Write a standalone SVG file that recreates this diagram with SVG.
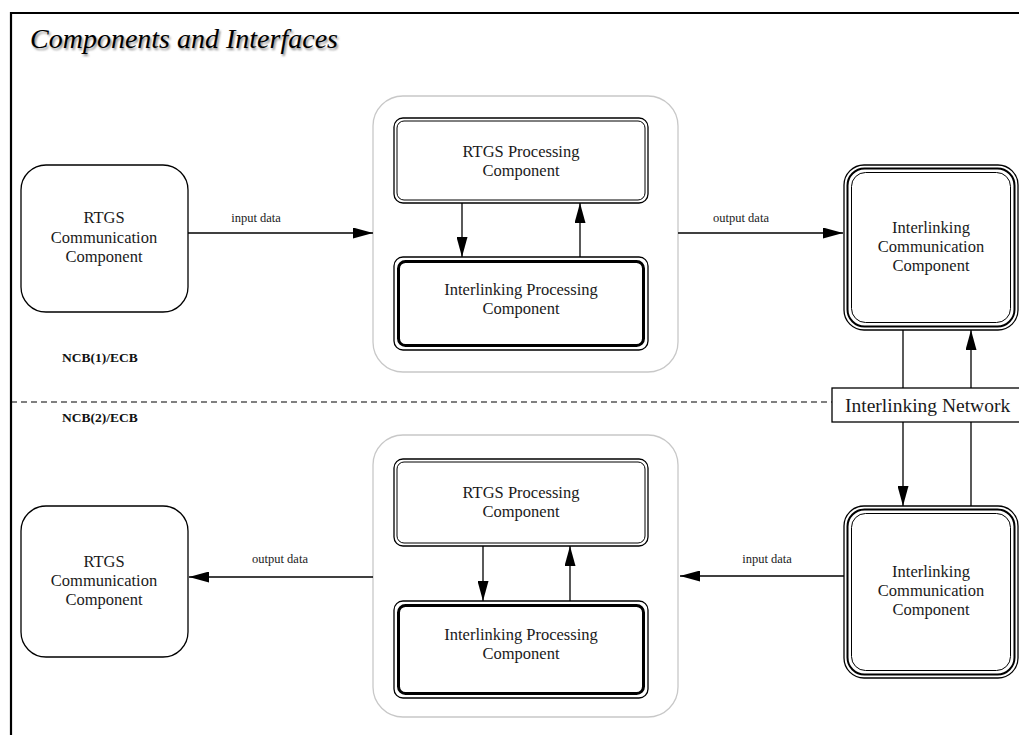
<svg xmlns="http://www.w3.org/2000/svg" width="1019" height="735" viewBox="0 0 1019 735">
<style>
.t{font-family:"Liberation Serif","Times New Roman",serif;font-size:16.5px;fill:#1a1a1a;text-anchor:middle}
.s{font-family:"Liberation Serif","Times New Roman",serif;font-size:12.5px;fill:#1a1a1a;text-anchor:middle}
.b{font-family:"Liberation Serif","Times New Roman",serif;font-size:13.5px;font-weight:bold;fill:#111}
.ln{stroke:#000;stroke-width:1.3;fill:none}
.box{fill:#fff;stroke:#000;stroke-width:1.3}
.thin{fill:none;stroke:#000;stroke-width:1}
.cont{fill:#fff;stroke:#c8c8c8;stroke-width:1.3}
</style>
<defs>
<marker id="ah" viewBox="0 0 20 11" refX="20" refY="5.5" markerWidth="20" markerHeight="11" markerUnits="userSpaceOnUse" orient="auto">
<path d="M0,0 L20,5.5 L0,11 z" fill="#000"/>
</marker>
<filter id="blur" x="-5%" y="-20%" width="110%" height="140%"><feGaussianBlur stdDeviation="0.8"/></filter>
</defs>
<rect x="0" y="0" width="1019" height="735" fill="#fff"/>
<path d="M11,740 L11,13 L1025,13" fill="none" stroke="#000" stroke-width="2.2"/>
<g id="title">
<text x="31.5" y="49.5" font-family="Liberation Serif, serif" font-style="italic" font-size="28" fill="#888" filter="url(#blur)">Components and Interfaces</text>
<text x="30" y="48" font-family="Liberation Serif, serif" font-style="italic" font-size="28" fill="#000">Components and Interfaces</text>
</g>
<line x1="11" y1="402" x2="832" y2="402" stroke="#000" stroke-width="1" stroke-dasharray="6,4"/>
<text class="b" x="62" y="362">NCB(1)/ECB</text>
<text class="b" x="62" y="422">NCB(2)/ECB</text>

<g id="container-top"><rect class="cont" x="373" y="96" width="305" height="276" rx="30"/></g>
<g id="container-bottom"><rect class="cont" x="373" y="435" width="305" height="282" rx="30"/></g>

<g id="connectors">
<line class="ln" x1="188" y1="233" x2="373" y2="233" marker-end="url(#ah)"/>
<text class="s" x="256" y="222">input data</text>
<line class="ln" x1="678" y1="233" x2="843" y2="233" marker-end="url(#ah)"/>
<text class="s" x="741" y="222">output data</text>
<line class="ln" x1="462" y1="203" x2="462" y2="257" marker-end="url(#ah)"/>
<line class="ln" x1="580" y1="257" x2="580" y2="203" marker-end="url(#ah)"/>
<line class="ln" x1="903" y1="330" x2="903" y2="388"/>
<line class="ln" x1="971" y1="388" x2="971" y2="330" marker-end="url(#ah)"/>
<line class="ln" x1="903" y1="422" x2="903" y2="506" marker-end="url(#ah)"/>
<line class="ln" x1="971" y1="422" x2="971" y2="506"/>
<line class="ln" x1="844" y1="576" x2="680" y2="576" marker-end="url(#ah)"/>
<text class="s" x="767" y="563">input data</text>
<line class="ln" x1="373" y1="577" x2="189" y2="577" marker-end="url(#ah)"/>
<text class="s" x="280" y="563">output data</text>
<line class="ln" x1="483" y1="546" x2="483" y2="601" marker-end="url(#ah)"/>
<line class="ln" x1="570" y1="601" x2="570" y2="546" marker-end="url(#ah)"/>
</g>

<g id="rtgs-comm-1">
<rect class="box" x="21" y="165" width="167" height="147" rx="25"/>
<text class="t" x="104" y="223">RTGS</text>
<text class="t" x="104" y="243">Communication</text>
<text class="t" x="104" y="262">Component</text>
</g>
<g id="rtgs-proc-1">
<rect class="box" x="394" y="118" width="254" height="85" rx="9"/>
<rect class="thin" x="397" y="121" width="248" height="79" rx="7"/>
<text class="t" x="521" y="157">RTGS Processing</text>
<text class="t" x="521" y="176">Component</text>
</g>
<g id="il-proc-1">
<rect class="box" x="394" y="257" width="254" height="93" rx="9"/>
<rect fill="none" stroke="#000" stroke-width="3" x="398.5" y="261.5" width="245" height="84" rx="7"/>
<text class="t" x="521" y="295">Interlinking Processing</text>
<text class="t" x="521" y="314">Component</text>
</g>
<g id="il-comm-1">
<rect class="box" x="844" y="165" width="174" height="165" rx="20"/>
<rect fill="none" stroke="#000" stroke-width="2" x="847.5" y="168.5" width="167" height="158" rx="17"/>
<rect class="thin" x="851.5" y="172.5" width="159" height="150" rx="14"/>
<text class="t" x="931" y="233">Interlinking</text>
<text class="t" x="931" y="252">Communication</text>
<text class="t" x="931" y="271">Component</text>
</g>
<g id="network">
<rect class="box" x="832" y="388" width="200" height="34"/>
<text x="845" y="412" font-family="Liberation Serif, serif" font-size="19.5" fill="#1a1a1a">Interlinking Network</text>
</g>
<g id="rtgs-comm-2">
<rect class="box" x="21" y="506" width="167" height="151" rx="25"/>
<text class="t" x="104" y="567">RTGS</text>
<text class="t" x="104" y="586">Communication</text>
<text class="t" x="104" y="605">Component</text>
</g>
<g id="rtgs-proc-2">
<rect class="box" x="394" y="459" width="254" height="87" rx="9"/>
<rect class="thin" x="397" y="462" width="248" height="81" rx="7"/>
<text class="t" x="521" y="498">RTGS Processing</text>
<text class="t" x="521" y="517">Component</text>
</g>
<g id="il-proc-2">
<rect class="box" x="394" y="601" width="254" height="97" rx="9"/>
<rect fill="none" stroke="#000" stroke-width="3" x="398.5" y="605.5" width="245" height="88" rx="7"/>
<text class="t" x="521" y="640">Interlinking Processing</text>
<text class="t" x="521" y="659">Component</text>
</g>
<g id="il-comm-2">
<rect class="box" x="844" y="506" width="174" height="172" rx="20"/>
<rect fill="none" stroke="#000" stroke-width="2" x="847.5" y="509.5" width="167" height="165" rx="17"/>
<rect class="thin" x="851.5" y="513.5" width="159" height="157" rx="14"/>
<text class="t" x="931" y="577">Interlinking</text>
<text class="t" x="931" y="596">Communication</text>
<text class="t" x="931" y="615">Component</text>
</g>
</svg>
